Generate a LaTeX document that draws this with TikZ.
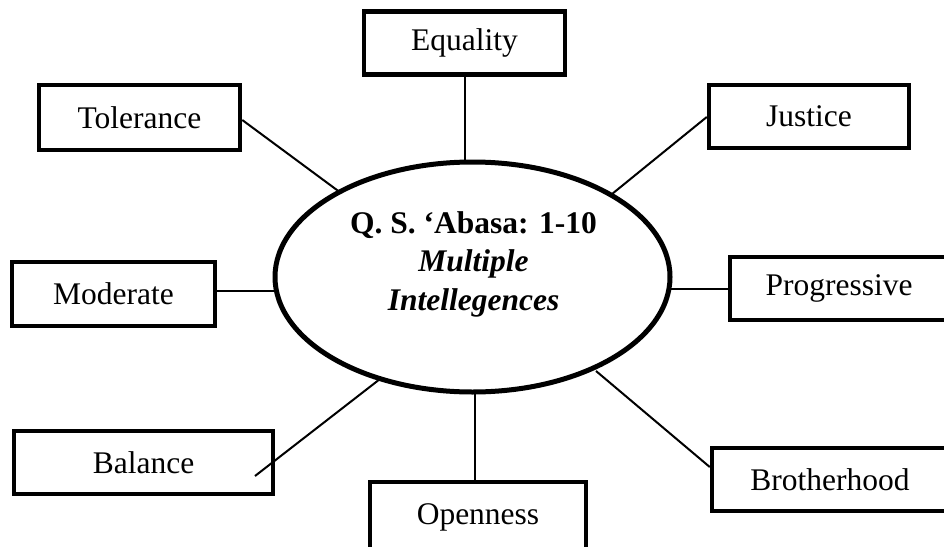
\documentclass[tikz,border=0pt]{standalone}
\usepackage{fontspec}
\setmainfont{Liberation Serif}
\usetikzlibrary{shapes.geometric}
\tikzset{
  box/.style={draw=black, line width=4.5pt, rectangle, inner sep=0pt, fill=white,
    font=\fontsize{31.5}{38}\selectfont},
  link/.style={draw=black, line width=2pt},
  hub/.style={draw=black, line width=5pt, ellipse, inner sep=0pt,
    minimum width=395pt, minimum height=230pt}
}
\begin{document}
\begin{tikzpicture}[x=1pt, y=-1pt]
\useasboundingbox (0,0) rectangle (944,546);
\clip (0,0) rectangle (944,546);
\fill[white] (0,0) rectangle (944,546);

% central ellipse
\node[hub] (c) at (472.5,277) {};
\node[align=center, inner sep=0pt, font=\fontsize{31.5}{38.5}\selectfont] (ctext) at (473.5,264)
  {\textbf{Q. S. ‘Abasa: 1-10}\\ \textbf{\textit{Multiple}}\\ \textbf{\textit{Intellegences}}};

% boxes
\node[box, minimum width=201pt, minimum height=63pt] (eq) at (464.5,43) {Equality};
\node[box, minimum width=201pt, minimum height=65pt] (tol) at (139.5,117.5) {Tolerance};
\node[box, minimum width=200pt, minimum height=63pt] (jus) at (809,116.5) {Justice};
\node[box, minimum width=203pt, minimum height=64pt] (mod) at (113.5,294) {Moderate};
\node[box, minimum width=218pt, minimum height=63pt] (pro) at (839,288.5) {Progressive};
\node[box, minimum width=259pt, minimum height=63pt] (bal) at (143.5,462.5) {Balance};
\node[box, minimum width=216pt, minimum height=70pt] (ope) at (478,517) {Openness};
\node[box, minimum width=236pt, minimum height=63pt] (bro) at (830,479.5) {Brotherhood};

% connector end points on the ellipse
\coordinate (ceq) at (465,162);
\coordinate (ctol) at (341,193);
\coordinate (cjus) at (612,194);
\coordinate (cmod) at (276,291);
\coordinate (cpro) at (669,289);
\coordinate (cbal) at (380,379);
\coordinate (cope) at (475,392);
\coordinate (cbro) at (596,371);
\coordinate (balend) at (255,476);

% connectors
\draw[link] (eq.south -| ceq) -- (ceq);
\draw[link] (tol.east |- 0,120) -- (ctol);
\draw[link] (jus.west |- 0,117) -- (cjus);
\draw[link] (mod.east |- cmod) -- (cmod);
\draw[link] (pro.west |- cpro) -- (cpro);
\draw[link] (balend) -- (cbal);
\draw[link] (ope.north -| cope) -- (cope);
\draw[link] (bro.west |- 0,467) -- (cbro);
\end{tikzpicture}
\end{document}
